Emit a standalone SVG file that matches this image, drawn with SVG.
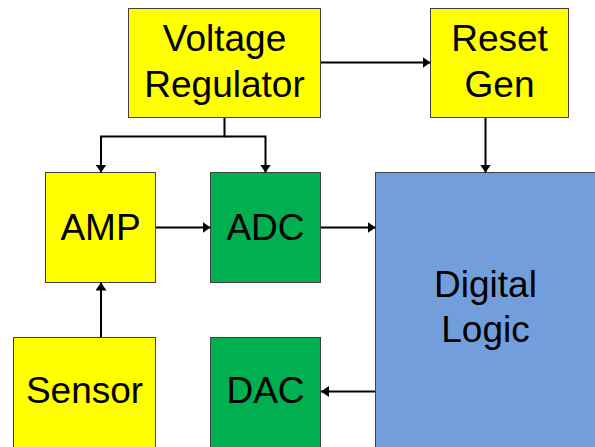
<svg xmlns="http://www.w3.org/2000/svg" width="595" height="447" viewBox="0 0 595 447">
  <style>
    .box { stroke: #404040; stroke-width: 1; }
    .yellow { fill: #FFFF00; }
    .green { fill: #00B050; }
    .blue { fill: #729FDB; }
    .lbl { font-family: "Liberation Sans", Arial, sans-serif; font-size: 37px; fill: #000; text-anchor: middle; }
    .conn { fill: none; stroke: #000; stroke-width: 2; marker-end: url(#arrow); }
  </style>
  <defs>
    <marker id="arrow" markerUnits="userSpaceOnUse" markerWidth="8" markerHeight="11" refX="8" refY="5.5" orient="auto">
      <path d="M0,0 L8,5.5 L0,11 z" fill="#000"/>
    </marker>
  </defs>
  <rect width="595" height="447" fill="#fff"/>

  <g id="voltage-regulator">
    <rect class="box yellow" x="128.5" y="8.5" width="192" height="109"/>
    <text class="lbl" x="224.5" y="50.5">Voltage</text>
    <text class="lbl" x="224.5" y="96.5">Regulator</text>
  </g>
  <g id="reset-gen">
    <rect class="box yellow" x="430.5" y="8.5" width="138" height="109"/>
    <text class="lbl" x="499.5" y="50.5">Reset</text>
    <text class="lbl" x="499.5" y="96.5">Gen</text>
  </g>
  <g id="amp">
    <rect class="box yellow" x="45.5" y="172.5" width="110" height="110"/>
    <text class="lbl" x="100.5" y="239.5">AMP</text>
  </g>
  <g id="adc">
    <rect class="box green" x="210.5" y="172.5" width="110" height="110"/>
    <text class="lbl" x="265.5" y="239.5">ADC</text>
  </g>
  <g id="digital-logic">
    <rect class="box blue" x="375.5" y="172.5" width="230" height="290"/>
    <text class="lbl" x="485.5" y="297">Digital</text>
    <text class="lbl" x="485.5" y="342">Logic</text>
  </g>
  <g id="sensor">
    <rect class="box yellow" x="13.5" y="337.5" width="142" height="120"/>
    <text class="lbl" x="84.5" y="403">Sensor</text>
  </g>
  <g id="dac">
    <rect class="box green" x="210.5" y="337.5" width="110" height="120"/>
    <text class="lbl" x="265.5" y="403">DAC</text>
  </g>

  <g id="connectors">
    <path class="conn" d="M224.5,118 V136.5 H101 V172.5"/>
    <path class="conn" d="M224.5,136.5 H265.5 V172.5"/>
    <path class="conn" d="M321,62.5 H430.5"/>
    <path class="conn" d="M485.5,118 V172.5"/>
    <path class="conn" d="M156,227.5 H210.5"/>
    <path class="conn" d="M321,227.5 H375.5"/>
    <path class="conn" d="M101,337 V282.5"/>
    <path class="conn" d="M375,391.5 H321"/>
  </g>
</svg>
